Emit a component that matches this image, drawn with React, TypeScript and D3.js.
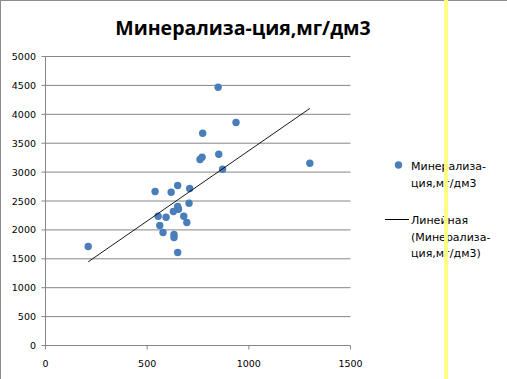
import React from "react";
import * as d3 from "d3";

const xValues = [210, 773, 760, 770, 852, 539, 618, 650, 709, 706, 650, 654, 629, 554, 593, 680, 695, 562, 578, 632, 632, 650, 849, 937, 871, 1300];
const yValues = [1713, 3673, 3218, 3258, 3310, 2664, 2652, 2768, 2716, 2462, 2405, 2358, 2318, 2237, 2220, 2237, 2128, 2076, 1955, 1920, 1868, 1609, 4469, 3858, 3050, 3154];
const xTicks = [0, 500, 1000, 1500];
const yTicks = [0, 500, 1000, 1500, 2000, 2500, 3000, 3500, 4000, 4500, 5000];
const title = "Минерализа-ция,мг/дм3";
const legendSeries = ["Минерализа-", "ция,мг/дм3"];
const legendTrend = ["Линейная", "(Минерализа-", "ция,мг/дм3)"];

export default function App() {
  const W = 507, H = 379;
  const x = d3.scaleLinear().domain([0, 1500]).range([45.5, 350.5]);
  const y = d3.scaleLinear().domain([0, 5000]).range([345.5, 56.5]);
  const pts = xValues.map((v, i) => ({ x: v, y: yValues[i] }));
  const mx = d3.mean(xValues)!, my = d3.mean(yValues)!;
  const sxy = d3.sum(pts, (p) => (p.x - mx) * (p.y - my));
  const sxx = d3.sum(pts, (p) => (p.x - mx) * (p.x - mx));
  const slope = sxy / sxx;
  const icpt = my - slope * mx;
  const x0 = d3.min(xValues)!, x1 = d3.max(xValues)!;
  const line = d3.line<number>().x((v) => x(v)).y((v) => y(icpt + slope * v));
  const font = "'DejaVu Sans', Verdana, sans-serif";
  const grid = "#868686";
  return (
    <svg width={W} height={H} style={{ position: "absolute", left: 0, top: 0, background: "#fff" }}>
      <rect x={0} y={0} width={W} height={H} fill="#fff" />
      <line x1={0.5} y1={0} x2={0.5} y2={H} stroke="#8c8c8c" />
      <line x1={0} y1={0.5} x2={W} y2={0.5} stroke="#8c8c8c" />
      <text x={243} y={35} textAnchor="middle" fontFamily="'Open Sans', sans-serif" fontWeight="bold" fontSize={19.5} fill="#000">{title}</text>
      {yTicks.map((t) => (
        <g key={"y" + t}>
          {t > 0 && <line x1={x(0)} x2={x(1500)} y1={y(t)} y2={y(t)} stroke={grid} />}
          <line x1={x(0) - 4} x2={x(0)} y1={y(t)} y2={y(t)} stroke={grid} />
          <text x={36} y={y(t) + 3.5} textAnchor="end" fontFamily={font} fontSize={9.5} fill="#000">{t}</text>
        </g>
      ))}
      <line x1={x(0)} x2={x(0)} y1={y(0)} y2={y(5000)} stroke={grid} />
      <line x1={x(0)} x2={x(1500)} y1={y(0)} y2={y(0)} stroke={grid} />
      {xTicks.map((t) => (
        <g key={"x" + t}>
          <line x1={x(t)} x2={x(t)} y1={y(0)} y2={y(0) + 4} stroke={grid} />
          <text x={x(t)} y={367} textAnchor="middle" fontFamily={font} fontSize={9.5} fill="#000">{t}</text>
        </g>
      ))}
      {pts.map((p, i) => (
        <circle key={i} cx={x(p.x)} cy={y(p.y)} r={3.7} fill="#4a7ebb" />
      ))}
      <path d={line([x0, x1]) || ""} stroke="#000" strokeWidth={0.9} fill="none" />
      <circle cx={398.5} cy={165} r={3.7} fill="#4a7ebb" />
      {legendSeries.map((s, i) => (
        <text key={"ls" + i} x={411} y={170 + i * 16.5} fontFamily={font} fontSize={11} fill="#000">{s}</text>
      ))}
      <line x1={385} x2={409} y1={219.5} y2={219.5} stroke="#000" strokeWidth={1} />
      {legendTrend.map((s, i) => (
        <text key={"lt" + i} x={411} y={224 + i * 16.5} fontFamily={font} fontSize={11} fill="#000">{s}</text>
      ))}
      <rect x={444} y={0} width={4} height={H} fill="#ffff80" opacity={0.95} />
    </svg>
  );
}
